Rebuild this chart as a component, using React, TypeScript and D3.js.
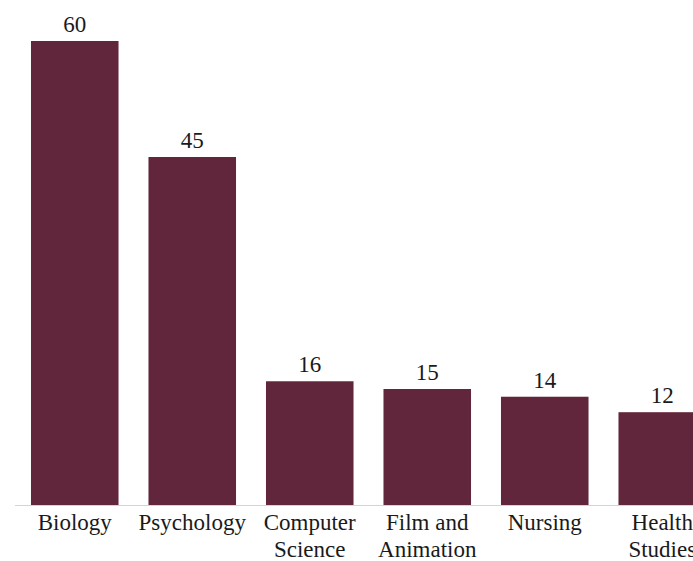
import React, { useEffect, useRef } from 'react';
import * as d3 from 'd3';

// majors and counts
const categories = ['Biology', 'Psychology', 'Computer Science', 'Film and Animation', 'Nursing', 'Health Studies'];
const counts = [60, 45, 16, 15, 14, 12];
// how each category label wraps under its bar
const labelLines = [['Biology'], ['Psychology'], ['Computer', 'Science'], ['Film and', 'Animation'], ['Nursing'], ['Health', 'Studies']];

const App: React.FC = () => {
  const svgRef = useRef<SVGSVGElement>(null);

  useEffect(() => {
    if (!svgRef.current) return;
    const svg = d3.select(svgRef.current);
    svg.selectAll('*').remove();

    const width = 693;
    const height = 561;
    const baseline = 505;
    const font = "'Liberation Serif', 'Times New Roman', 'DejaVu Serif', Georgia, serif";
    const barColor = '#61263b';

    const x = d3.scaleBand<string>()
      .domain(categories)
      .range([15, 722])
      .paddingInner(0.255)
      .paddingOuter(0.136);

    const y = d3.scaleLinear()
      .domain([0, 60])
      .range([baseline, 41]);

    // baseline
    svg.append('line')
      .attr('x1', 15)
      .attr('x2', width)
      .attr('y1', baseline + 0.5)
      .attr('y2', baseline + 0.5)
      .attr('stroke', '#d4d4d4')
      .attr('stroke-width', 1);

    svg.append('g')
      .selectAll('rect')
      .data(categories)
      .join('rect')
        .attr('x', d => x(d)!)
        .attr('y', (d, i) => y(counts[i]))
        .attr('width', x.bandwidth())
        .attr('height', (d, i) => baseline - y(counts[i]))
        .attr('fill', barColor);

    // value labels above bars
    svg.append('g')
      .style('font-family', font)
      .style('font-size', '23px')
      .attr('fill', '#1a1a1a')
      .attr('text-anchor', 'middle')
      .selectAll('text')
      .data(categories)
      .join('text')
        .attr('x', d => x(d)! + x.bandwidth() / 2)
        .attr('y', (d, i) => y(counts[i]) - 9)
        .text((d, i) => counts[i]);

    // category labels below the baseline
    const labels = svg.append('g')
      .style('font-family', font)
      .style('font-size', '23px')
      .attr('fill', '#1a1a1a')
      .attr('text-anchor', 'middle')
      .selectAll('text')
      .data(categories)
      .join('text')
        .attr('x', d => x(d)! + x.bandwidth() / 2)
        .attr('y', 530);

    labels.selectAll('tspan')
      .data((d, i) => labelLines[i].map(line => ({ line, cx: x(d)! + x.bandwidth() / 2 })))
      .join('tspan')
        .attr('x', t => t.cx)
        .attr('dy', (t, j) => (j === 0 ? 0 : 27))
        .text(t => t.line);

    svg.attr('width', width).attr('height', height);
  }, []);

  return (
    <svg
      ref={svgRef}
      style={{ position: 'absolute', left: 0, top: 0, overflow: 'hidden', background: '#fff' }}
    ></svg>
  );
};

export default App;
